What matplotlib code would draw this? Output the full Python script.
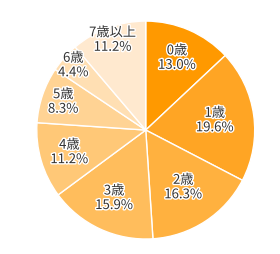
import matplotlib
matplotlib.use('Agg')
import matplotlib.pyplot as plt
import matplotlib.patheffects as pe
import numpy as np

plt.rcParams['font.family'] = ['Noto Sans CJK JP', 'DejaVu Sans']

# 年齢別の割合
labels = ['0歳', '1歳', '2歳', '3歳', '4歳', '5歳', '6歳', '7歳以上']
values = [13.0, 19.6, 16.3, 15.9, 11.2, 8.3, 4.4, 11.2]
colors = ['#ff9900', '#ffa524', '#ffb13f', '#ffbd5c', '#ffc877',
          '#ffd394', '#ffdfb3', '#ffe9cf']

fig = plt.figure(figsize=(2.80, 2.54), dpi=100)
ax = fig.add_axes([0.131, 0.059, 0.779, 0.858])

wedges, _ = ax.pie(values, colors=colors, startangle=90, counterclock=False,
                   radius=1.0, wedgeprops=dict(edgecolor='white', linewidth=1.0))

# ラベルの距離（中心からの比率）
dist = [0.72, 0.64, 0.63, 0.69, 0.73, 0.80, 0.89, 0.88]
for w, lab, v, d in zip(wedges, labels, values, dist):
    ang = np.deg2rad((w.theta1 + w.theta2) / 2)
    x, y = d * np.cos(ang), d * np.sin(ang)
    ax.text(x, y, '%s\n%.1f%%' % (lab, v), ha='center', va='center',
            fontsize=9.5, color='#333333', linespacing=1.15,
            path_effects=[pe.withStroke(linewidth=2, foreground='white')])

ax.set_xlim(-1, 1)
ax.set_ylim(-1, 1)
ax.set_aspect('equal')
ax.axis('off')

fig.savefig('out.png', dpi=100)
